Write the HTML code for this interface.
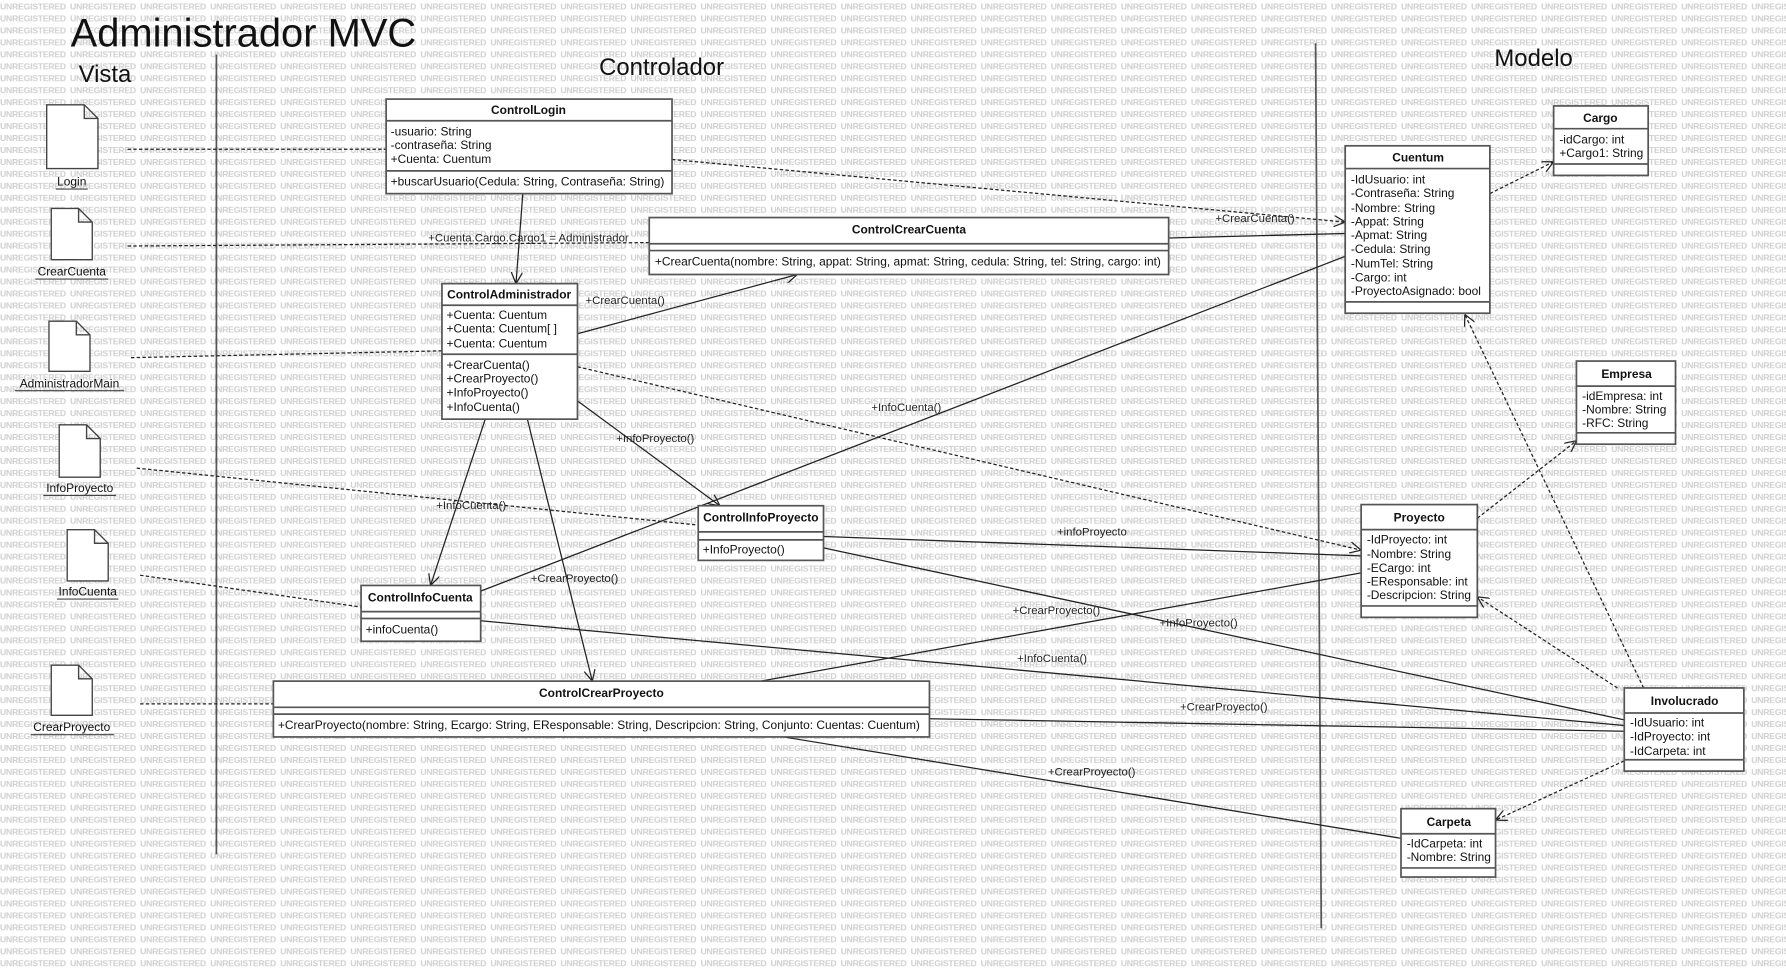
<!DOCTYPE html>
<html><head><meta charset="utf-8"><style>
html,body{margin:0;padding:0;background:#fff;width:1786px;height:971px;overflow:hidden}
svg{display:block}
text{font-family:"Liberation Sans",sans-serif;fill:#111}
.wm{font-size:7.6px;font-weight:bold;fill:#cfcfcf;letter-spacing:-0.2px}
.t{font-size:10.5px}
.b{font-size:10.5px;font-weight:bold}
.box{fill:#fff;stroke:#555;stroke-width:1.5}
.sep{stroke:#555;stroke-width:1.5}
.s{stroke:#222;stroke-width:1.1;fill:none}
.d{stroke:#222;stroke-width:1.1;fill:none;stroke-dasharray:3,2}
.lbl{font-size:10px;fill:#222}
</style></head><body>
<svg width="1786" height="971" viewBox="0 0 1568 852.5" preserveAspectRatio="none" xmlns="http://www.w3.org/2000/svg">
<defs>
<pattern id="wm" x="0" y="0" width="61.5" height="10.5" patternUnits="userSpaceOnUse">
<text class="wm" x="0" y="8.3">UNREGISTERED</text>
</pattern>
<marker id="a" viewBox="0 0 10 10" refX="10" refY="5" markerWidth="10" markerHeight="10" orient="auto" markerUnits="userSpaceOnUse">
<path d="M0,0 L10,5 L0,10" fill="none" stroke="#222" stroke-width="1.1"/>
</marker>
</defs>
<rect width="1568" height="852.5" fill="url(#wm)"/>

<text x="62" y="41" style="font-size:35px">Administrador MVC</text>
<text x="69" y="72" style="font-size:21px">Vista</text>
<text x="526" y="66" style="font-size:21px">Controlador</text>
<text x="1312" y="58" style="font-size:21px">Modelo</text>

<line x1="190" y1="48" x2="190" y2="750" stroke="#555" stroke-width="1.5"/>
<line x1="1155" y1="38" x2="1160" y2="815" stroke="#555" stroke-width="1.5"/>

<!-- docs -->
<g fill="#fff" stroke="#444" stroke-width="1.2">
<path d="M41,92 H74 L86,104 V148 H41 Z M74,92 V104 H86"/>
<path d="M45,183 H69 L81,195 V228 H45 Z M69,183 V195 H81"/>
<path d="M43,282 H67 L79,294 V326 H43 Z M67,282 V294 H79"/>
<path d="M52,373 H76 L88,385 V419 H52 Z M76,373 V385 H88"/>
<path d="M59,465 H83 L95,477 V510 H59 Z M83,465 V477 H95"/>
<path d="M45,584 H69 L81,596 V628 H45 Z M69,596 V596 M69,584 V596 H81"/>
</g>
<g style="font-size:10.5px" text-anchor="middle">
<text x="63" y="163">Login</text><line x1="49" y1="166" x2="77" y2="166" stroke="#444"/>
<text x="63" y="242">CrearCuenta</text><line x1="31" y1="245" x2="95" y2="245" stroke="#444"/>
<text x="61" y="340">AdministradorMain</text><line x1="13" y1="343" x2="109" y2="343" stroke="#444"/>
<text x="70" y="432">InfoProyecto</text><line x1="38" y1="435" x2="102" y2="435" stroke="#444"/>
<text x="77" y="523">InfoCuenta</text><line x1="50" y1="526" x2="104" y2="526" stroke="#444"/>
<text x="63" y="642">CrearProyecto</text><line x1="27" y1="645" x2="100" y2="645" stroke="#444"/>
</g>

<!-- connectors -->
<line class="d" x1="112" y1="131" x2="339" y2="131"/>
<line class="d" x1="112" y1="216" x2="570" y2="213"/>
<line class="d" x1="115" y1="314" x2="388" y2="308"/>
<line class="d" x1="120" y1="411" x2="613" y2="461"/>
<line class="d" x1="123" y1="505" x2="317" y2="533"/>
<line class="d" x1="123" y1="618" x2="240" y2="618"/>

<line class="s" x1="459" y1="170" x2="453" y2="249" marker-end="url(#a)"/>
<line class="d" x1="590" y1="140" x2="1181" y2="195" marker-end="url(#a)"/>
<line class="s" x1="1026" y1="209" x2="1181" y2="205"/>
<line class="s" x1="507" y1="293" x2="700" y2="241" marker-end="url(#a)"/>
<line class="d" x1="507" y1="322" x2="1195" y2="483" marker-end="url(#a)"/>
<line class="s" x1="507" y1="352" x2="632" y2="444" marker-end="url(#a)"/>
<line class="s" x1="426" y1="368" x2="378" y2="514" marker-end="url(#a)"/>
<line class="s" x1="463" y1="368" x2="520" y2="598" marker-end="url(#a)"/>
<line class="s" x1="422" y1="519" x2="1181" y2="225"/>
<line class="s" x1="723" y1="471" x2="1195" y2="488"/>
<line class="s" x1="723" y1="481" x2="1426" y2="632"/>
<line class="s" x1="422" y1="545" x2="1426" y2="637"/>
<line class="s" x1="668" y1="598" x2="1195" y2="503"/>
<line class="s" x1="816" y1="631" x2="1426" y2="642"/>
<line class="s" x1="688" y1="647" x2="1230" y2="736"/>
<line class="d" x1="1308" y1="170" x2="1364" y2="142" marker-end="url(#a)"/>
<line class="d" x1="1297" y1="455" x2="1384" y2="387" marker-end="url(#a)"/>
<line class="d" x1="1443" y1="604" x2="1286" y2="276" marker-end="url(#a)"/>
<line class="d" x1="1420" y1="604" x2="1297" y2="524" marker-end="url(#a)"/>
<line class="d" x1="1426" y1="668" x2="1313" y2="720" marker-end="url(#a)"/>

<g class="lbl">
<text class="lbl" x="376" y="212">+Cuenta.Cargo.Cargo1 = Administrador</text>
<text class="lbl" x="1067" y="195">+CrearCuenta()</text>
<text class="lbl" x="514" y="267">+CrearCuenta()</text>
<text class="lbl" x="541" y="388">+InfoProyecto()</text>
<text class="lbl" x="765" y="361">+InfoCuenta()</text>
<text class="lbl" x="383" y="447">+InfoCuenta()</text>
<text class="lbl" x="466" y="511">+CrearProyecto()</text>
<text class="lbl" x="928" y="470">+infoProyecto</text>
<text class="lbl" x="889" y="539">+CrearProyecto()</text>
<text class="lbl" x="1018" y="550">+InfoProyecto()</text>
<text class="lbl" x="893" y="581">+InfoCuenta()</text>
<text class="lbl" x="1036" y="624">+CrearProyecto()</text>
<text class="lbl" x="920" y="681">+CrearProyecto()</text>
</g>

<!-- ControlLogin -->
<rect class="box" x="339" y="87" width="251" height="83"/>
<line class="sep" x1="339" y1="106" x2="590" y2="106"/>
<line class="sep" x1="339" y1="150" x2="590" y2="150"/>
<text class="b" x="464" y="100" text-anchor="middle">ControlLogin</text>
<text class="t" x="343" y="119">-usuario: String</text>
<text class="t" x="343" y="131">-contraseña: String</text>
<text class="t" x="343" y="143">+Cuenta: Cuentum</text>
<text class="t" x="343" y="163">+buscarUsuario(Cedula: String, Contraseña: String)</text>

<!-- ControlCrearCuenta -->
<rect class="box" x="570" y="191" width="456" height="50"/>
<line class="sep" x1="570" y1="214" x2="1026" y2="214"/>
<line class="sep" x1="570" y1="220" x2="1026" y2="220"/>
<text class="b" x="798" y="205" text-anchor="middle">ControlCrearCuenta</text>
<text class="t" x="575" y="233">+CrearCuenta(nombre: String, appat: String, apmat: String, cedula: String, tel: String, cargo: int)</text>

<!-- ControlAdministrador -->
<rect class="box" x="388" y="249" width="119" height="119"/>
<line class="sep" x1="388" y1="268" x2="507" y2="268"/>
<line class="sep" x1="388" y1="311" x2="507" y2="311"/>
<text class="b" x="447" y="262" text-anchor="middle">ControlAdministrador</text>
<text class="t" x="392" y="280">+Cuenta: Cuentum</text>
<text class="t" x="392" y="292">+Cuenta: Cuentum[ ]</text>
<text class="t" x="392" y="305">+Cuenta: Cuentum</text>
<text class="t" x="392" y="324">+CrearCuenta()</text>
<text class="t" x="392" y="336">+CrearProyecto()</text>
<text class="t" x="392" y="348">+InfoProyecto()</text>
<text class="t" x="392" y="361">+InfoCuenta()</text>

<!-- ControlInfoProyecto -->
<rect class="box" x="613" y="444" width="110" height="48"/>
<line class="sep" x1="613" y1="467" x2="723" y2="467"/>
<line class="sep" x1="613" y1="474" x2="723" y2="474"/>
<text class="b" x="668" y="458" text-anchor="middle">ControlInfoProyecto</text>
<text class="t" x="617" y="486">+InfoProyecto()</text>

<!-- ControlInfoCuenta -->
<rect class="box" x="317" y="514" width="105" height="49"/>
<line class="sep" x1="317" y1="537" x2="422" y2="537"/>
<line class="sep" x1="317" y1="543" x2="422" y2="543"/>
<text class="b" x="369" y="528" text-anchor="middle">ControlInfoCuenta</text>
<text class="t" x="321" y="556">+infoCuenta()</text>

<!-- ControlCrearProyecto -->
<rect class="box" x="240" y="598" width="576" height="49"/>
<line class="sep" x1="240" y1="621" x2="816" y2="621"/>
<line class="sep" x1="240" y1="627" x2="816" y2="627"/>
<text class="b" x="528" y="612" text-anchor="middle">ControlCrearProyecto</text>
<text class="t" x="244" y="640">+CrearProyecto(nombre: String, Ecargo: String, EResponsable: String, Descripcion: String, Conjunto: Cuentas: Cuentum)</text>

<!-- Cuentum -->
<rect class="box" x="1181" y="128" width="127" height="147"/>
<line class="sep" x1="1181" y1="148" x2="1308" y2="148"/>
<line class="sep" x1="1181" y1="265" x2="1308" y2="265"/>
<text class="b" x="1245" y="142" text-anchor="middle">Cuentum</text>
<g class="t">
<text class="t" x="1186" y="161">-IdUsuario: int</text>
<text class="t" x="1186" y="173">-Contraseña: String</text>
<text class="t" x="1186" y="186">-Nombre: String</text>
<text class="t" x="1186" y="198">-Appat: String</text>
<text class="t" x="1186" y="210">-Apmat: String</text>
<text class="t" x="1186" y="222">-Cedula: String</text>
<text class="t" x="1186" y="235">-NumTel: String</text>
<text class="t" x="1186" y="247">-Cargo: int</text>
<text class="t" x="1186" y="259">-ProyectoAsignado: bool</text>
</g>

<!-- Cargo -->
<rect class="box" x="1364" y="93" width="83" height="61"/>
<line class="sep" x1="1364" y1="113" x2="1447" y2="113"/>
<line class="sep" x1="1364" y1="144" x2="1447" y2="144"/>
<text class="b" x="1405" y="107" text-anchor="middle">Cargo</text>
<text class="t" x="1369" y="126">-idCargo: int</text>
<text class="t" x="1369" y="138">+Cargo1: String</text>

<!-- Empresa -->
<rect class="box" x="1384" y="317" width="87" height="73"/>
<line class="sep" x1="1384" y1="339" x2="1471" y2="339"/>
<line class="sep" x1="1384" y1="380" x2="1471" y2="380"/>
<text class="b" x="1428" y="332" text-anchor="middle">Empresa</text>
<text class="t" x="1389" y="351">-idEmpresa: int</text>
<text class="t" x="1389" y="363">-Nombre: String</text>
<text class="t" x="1389" y="375">-RFC: String</text>

<!-- Proyecto -->
<rect class="box" x="1195" y="443" width="102" height="99"/>
<line class="sep" x1="1195" y1="465" x2="1297" y2="465"/>
<line class="sep" x1="1195" y1="532" x2="1297" y2="532"/>
<text class="b" x="1246" y="458" text-anchor="middle">Proyecto</text>
<text class="t" x="1200" y="477">-IdProyecto: int</text>
<text class="t" x="1200" y="490">-Nombre: String</text>
<text class="t" x="1200" y="502">-ECargo: int</text>
<text class="t" x="1200" y="514">-EResponsable: int</text>
<text class="t" x="1200" y="526">-Descripcion: String</text>

<!-- Involucrado -->
<rect class="box" x="1426" y="604" width="105" height="73"/>
<line class="sep" x1="1426" y1="626" x2="1531" y2="626"/>
<line class="sep" x1="1426" y1="667" x2="1531" y2="667"/>
<text class="b" x="1479" y="619" text-anchor="middle">Involucrado</text>
<text class="t" x="1431" y="638">-IdUsuario: int</text>
<text class="t" x="1431" y="650">-IdProyecto: int</text>
<text class="t" x="1431" y="663">-IdCarpeta: int</text>

<!-- Carpeta -->
<rect class="box" x="1230" y="710" width="83" height="60"/>
<line class="sep" x1="1230" y1="732" x2="1313" y2="732"/>
<line class="sep" x1="1230" y1="762" x2="1313" y2="762"/>
<text class="b" x="1272" y="725" text-anchor="middle">Carpeta</text>
<text class="t" x="1235" y="744">-IdCarpeta: int</text>
<text class="t" x="1235" y="756">-Nombre: String</text>
</svg>
</body></html>
